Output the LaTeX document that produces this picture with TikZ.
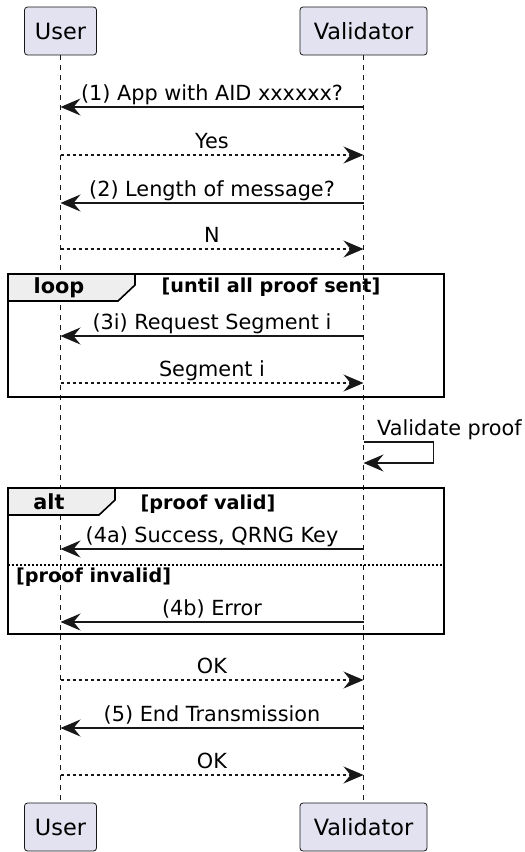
\documentclass[tikz,border=0pt]{standalone}
\usepackage{fontspec}
\setmainfont{DejaVu Sans}
\usetikzlibrary{arrows.meta}
\definecolor{ink}{HTML}{181818}
\definecolor{partfill}{HTML}{E2E2F0}
\definecolor{tabfill}{HTML}{EEEEEE}
\begin{document}
\begin{tikzpicture}[x=1pt,y=-1pt,
 part/.style={draw=ink, fill=partfill, rounded corners=3pt, line width=0.8pt, minimum height=48pt, inner sep=0pt, font=\fontsize{22.4}{26}\selectfont},
 life/.style={draw=ink, line width=0.6pt, dash pattern=on 5pt off 5pt},
 msg/.style={draw=ink, line width=1.2pt, -{Stealth[length=20pt,width=17pt,inset=7pt]}},
 reply/.style={msg, dash pattern=on 3pt off 3pt},
 lbl/.style={font=\fontsize{20.8}{24}\selectfont, anchor=base, inner sep=0pt, text=black},
 framebox/.style={draw=black, line width=2pt},
 tabbox/.style={draw=black, line width=1.6pt, fill=tabfill},
 flbl/.style={font=\bfseries\fontsize{19.2}{22}\selectfont, inner sep=0pt, anchor=base},
 klbl/.style={font=\bfseries\fontsize{20.8}{24}\selectfont, inner sep=0pt, anchor=base},
]
\useasboundingbox (0,0) rectangle (525,852);
% participants
\node[part, minimum width=72pt] (uT) at (60.5,31) {User};
\node[part, minimum width=127pt] (vT) at (363.5,31) {Validator};
\node[part, minimum width=72pt] (uB) at (60.5,827) {User};
\node[part, minimum width=127pt] (vB) at (363.5,827) {Validator};
\draw[life] (uT.south) -- (uB.north);
\draw[life] (vT.south) -- (vB.north);
% message anchor points
\foreach \n/\y in {1/107,2/155,3/203,4/249,5/336,6/383,7/549,8/622,9/680,10/728,11/775}{
  \coordinate (u\n) at (60.5,\y);
  \coordinate (v\n) at (363.5,\y);
}
% frames
\draw[framebox] (8,274) rectangle (444,397);
\draw[tabbox] (8,274) -- (135,274) -- (135,285) -- (118,301) -- (8,301) -- cycle;
\node[klbl] (loopk) at (59,293) {loop};
\node[flbl] (loopg) at (271,292) {[until all proof sent]};
\draw[framebox] (8,488) rectangle (444,634);
\draw[tabbox] (8,488) -- (115,488) -- (115,500) -- (99,515) -- (8,515) -- cycle;
\node[klbl] (altk) at (49,509) {alt};
\node[flbl] (altg) at (208,509) {[proof valid]};
\draw[draw=black, line width=1.2pt, dash pattern=on 2pt off 2pt] (8,565) -- (444,565);
\node[flbl, anchor=base west] (altg2) at (16,582) {[proof invalid]};
% messages
\draw[msg] (v1) -- (u1) node[lbl, midway, yshift=7pt] {(1) App with AID xxxxxx?};
\draw[reply] (u2) -- (v2) node[lbl, midway, yshift=7pt] {Yes};
\draw[msg] (v3) -- (u3) node[lbl, midway, yshift=7pt] {(2) Length of message?};
\draw[reply] (u4) -- (v4) node[lbl, midway, yshift=7pt] {N};
\draw[msg] (v5) -- (u5) node[lbl, midway, yshift=7pt] {(3i) Request Segment i};
\draw[reply] (u6) -- (v6) node[lbl, midway, yshift=7pt] {Segment i};
\coordinate (s1) at (363.5,442);
\coordinate (s2) at (363.5,463);
\draw[msg] (s1) -- ++(70,0) |- (s2);
\node[lbl, anchor=base west] (selfl) at (377,435) {Validate proof};
\draw[msg] (v7) -- (u7) node[lbl, midway, yshift=7pt] {(4a) Success, QRNG Key};
\draw[msg] (v8) -- (u8) node[lbl, midway, yshift=7pt] {(4b) Error};
\draw[reply] (u9) -- (v9) node[lbl, midway, yshift=7pt] {OK};
\draw[msg] (v10) -- (u10) node[lbl, midway, yshift=7pt] {(5) End Transmission};
\draw[reply] (u11) -- (v11) node[lbl, midway, yshift=7pt] {OK};
\end{tikzpicture}
\end{document}
